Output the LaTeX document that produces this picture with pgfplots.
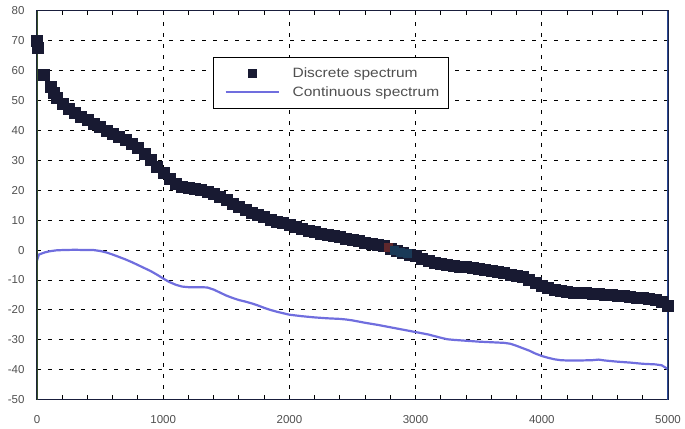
\documentclass[border=0pt]{standalone}
\usepackage{fontspec}
\setmainfont{Liberation Sans}
\newfontfamily\legendfont[FakeStretch=1.15]{Liberation Sans}
\usepackage{pgfplots}
\pgfplotsset{compat=1.18}
\usetikzlibrary{calc}

\definecolor{discrete}{RGB}{24,26,50}
\definecolor{discretered}{RGB}{95,40,45}
\definecolor{discreteteal}{RGB}{26,58,88}
\definecolor{contin}{RGB}{112,110,222}
\definecolor{leftax}{RGB}{52,78,40}
\definecolor{rightax}{RGB}{42,72,150}
\definecolor{frameax}{RGB}{25,30,60}
\definecolor{labelgray}{RGB}{80,80,80}

\pgfplotsset{
  linelegend/.style={legend image code/.code={%
    \path[draw=none, fill=none] (-3pt,0pt) -- (67pt,0pt);
    \draw[##1] (0pt,0pt) -- (53pt,0pt);}},
  marklegend/.style={legend image code/.code={%
    \path[draw=none, fill=none] (-3pt,0pt) -- (67pt,0pt);
    \draw[##1, mark size=4pt] plot coordinates {(27pt,0pt)};}},
}

% discrete spectrum samples
\pgfplotstableread{
x y
0 70
8 67.5
53 58.6
109 54.6
135 52.5
160 51
200 49
250 47.3
300 45.9
350 44.6
400 43.5
450 42.3
500 41.1
550 40
600 39
650 37.8
700 36.8
750 35.6
800 34.2
850 32.3
900 30.2
950 28
1000 26
1050 24
1100 22.3
1150 21.3
1200 20.8
1250 20.4
1300 20.1
1350 19.6
1400 18.9
1450 17.8
1500 16.7
1550 15.5
1600 14.5
1650 13.5
1700 12.6
1750 11.9
1800 11.1
1850 10.2
1900 9.6
1950 9.0
2000 8.6
2050 7.9
2100 7.2
2150 6.6
2200 6.1
2250 5.6
2300 5.2
2350 4.8
2400 4.4
2450 3.9
2500 3.5
2550 3.1
2600 2.6
2650 2.2
2700 1.8
2750 1.3
2800 0.6
2850 -0.2
2900 -0.9
2950 -1.4
3000 -2.0
3050 -2.8
3100 -3.6
3150 -4.2
3200 -4.6
3250 -4.9
3300 -5.2
3350 -5.4
3400 -5.7
3450 -6.0
3500 -6.3
3550 -6.6
3600 -7.0
3650 -7.3
3700 -7.7
3750 -8.1
3800 -8.5
3850 -9.0
3900 -9.8
3950 -10.8
4000 -11.8
4050 -12.6
4100 -13.2
4150 -13.6
4200 -13.9
4250 -14.1
4300 -14.3
4350 -14.4
4400 -14.5
4450 -14.6
4500 -14.8
4550 -15.0
4600 -15.2
4650 -15.4
4700 -15.6
4750 -15.8
4800 -16.0
4850 -16.4
4900 -16.7
4950 -17.3
5000 -18.5
}\discretetab

% continuous spectrum
\pgfplotstableread{
x y
0 -3.5
15 -1.5
60 -0.8
100 -0.4
150 -0.1
200 0
300 0.1
400 0
450 0
500 -0.3
550 -0.8
600 -1.5
650 -2.3
700 -3.1
750 -4
800 -5
850 -6
900 -7
950 -8.2
1000 -9.5
1050 -10.7
1100 -11.6
1150 -12.2
1200 -12.4
1300 -12.4
1350 -12.5
1400 -13.2
1450 -14.2
1500 -15.2
1550 -16
1600 -16.7
1650 -17.2
1700 -17.8
1750 -18.5
1800 -19.3
1850 -20
1900 -20.6
1950 -21.1
2000 -21.6
2100 -22.1
2200 -22.5
2300 -22.8
2400 -23
2450 -23.2
2500 -23.5
2600 -24.3
2700 -25
2800 -25.8
2900 -26.6
3000 -27.4
3100 -28.2
3200 -29.3
3250 -29.8
3300 -30
3400 -30.3
3500 -30.6
3600 -30.8
3700 -31
3750 -31.3
3800 -32
3850 -32.8
3900 -33.6
3950 -34.6
4000 -35.4
4050 -36
4100 -36.5
4150 -36.8
4200 -36.9
4300 -36.9
4400 -36.8
4450 -36.6
4500 -36.9
4600 -37.3
4700 -37.6
4800 -38
4900 -38.2
4950 -38.5
5000 -39.8
}\continuoustab

\begin{document}
\begin{tikzpicture}
\begin{axis}[
  scale only axis,
  width=631pt, height=389pt,
  xmin=0, xmax=5000, ymin=-50, ymax=80,
  xtick={0,1000,...,5000},
  minor x tick num=4,
  ytick={-50,-40,...,80},
  tick align=inside,
  major tick length=4.5pt, minor tick length=4.5pt,
  tick style={black, line width=1pt},
  grid=major,
  major grid style={black, line width=1pt, dash pattern=on 4pt off 7pt},
  axis line style={frameax, line width=1.4pt},
  /pgf/number format/assume math mode=true,
  /pgf/number format/1000 sep={},
  scaled x ticks=false,
  ticklabel style={font=\fontsize{11.5}{13}\selectfont, text=labelgray},
  xticklabel style={yshift=-12pt},
  yticklabel style={xshift=-9pt},
  legend style={
    at={(rel axis cs:0.279,0.882)}, anchor=north west,
    draw=black, line width=1pt, fill=white,
    font=\legendfont\fontsize{13.5}{15}\selectfont, text=labelgray,
    inner xsep=9pt, inner ysep=6.5pt,
    row sep=0pt,
    nodes={inner sep=0pt, minimum height=19pt},
  },
  legend cell align=left,
]
\addplot[only marks, mark=square*, mark size=5.5pt,
  mark options={draw=discrete, fill=discrete}, marklegend]
  table[x=x, y=y] {\discretetab};
\addlegendentry{Discrete spectrum}
\addplot[contin, line width=2.2pt, no marks, linelegend]
  table[x=x, y=y] {\continuoustab};
\addlegendentry{Continuous spectrum}
% a few off-colour samples in the discrete trace
\addplot[only marks, mark=square*, mark size=4pt,
  mark options={draw=discretered, fill=discretered}, forget plot]
  coordinates {(2780,0.9)};
\addplot[only marks, mark=square*, mark size=4pt,
  mark options={draw=discreteteal, fill=discreteteal}, forget plot]
  coordinates {(2830,0.1) (2880,-0.6) (2930,-1.2)};
% coloured frame sides
\draw[leftax, line width=1.7pt] (rel axis cs:0,0) -- (rel axis cs:0,1);
\draw[rightax, line width=1.7pt] (rel axis cs:1,0) -- (rel axis cs:1,1);
\end{axis}
\pgfresetboundingbox
\path[use as bounding box] ($(current axis.south west)+(-37pt,-29pt)$) rectangle ($(current axis.north east)+(17pt,10.7pt)$);
\end{tikzpicture}
\end{document}
